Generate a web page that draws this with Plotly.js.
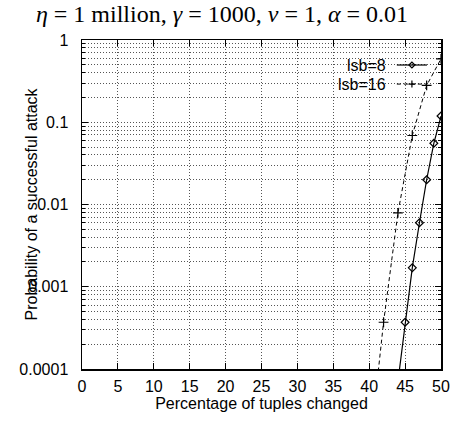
<!DOCTYPE html>
<html>
<head>
<meta charset="utf-8">
<script src="https://cdn.plot.ly/plotly-3.0.1.min.js"></script>
<style>html,body{margin:0;padding:0;background:#fff;}#chart{width:454px;height:422px;}</style>
</head>
<body>
<div id="chart"></div>
<script>
// Percentage of tuples changed
const xLsb8 = [44, 45, 46, 47, 48, 49, 50];
const yLsb8 = [0.00007, 0.00037, 0.0017, 0.0060, 0.020, 0.0555, 0.119];
const xLsb16 = [40, 42, 44, 46, 48, 50];
const yLsb16 = [0.000009, 0.00037, 0.0079, 0.069, 0.28, 0.59];
const seriesNames = ['lsb=8', 'lsb=16'];
const xTicks = [0, 5, 10, 15, 20, 25, 30, 35, 40, 45, 50];
const yTicks = [0.0001, 0.001, 0.01, 0.1, 1];
const yTickText = ['0.0001', '0.001', '0.01', '0.1', '1'];

const yMinor = [];
for (let d = -4; d < 0; d++) for (let m = 2; m <= 9; m++) yMinor.push(m * Math.pow(10, d));

const sans = 'Liberation Sans, Arial, sans-serif';
const gridDash = '1px,2px';
const gridColor = '#555';

const traces = [
  {x: xLsb8, y: yLsb8, mode: 'lines+markers', name: seriesNames[0], showlegend: false,
   line: {color: '#000', width: 1.2, dash: 'solid'},
   marker: {symbol: 'diamond-open', size: 6, color: '#000', line: {width: 1.2, color: '#000'}},
   cliponaxis: true},
  {x: xLsb16, y: yLsb16, mode: 'lines+markers', name: seriesNames[1], showlegend: false,
   line: {color: '#000', width: 1, dash: '4px,3px'},
   marker: {symbol: 'cross-thin-open', size: 7, color: '#000', line: {width: 1.2, color: '#000'}},
   cliponaxis: true}
];

function legendItem(yp, symPath, dash) {
  return [
    {type: 'line', xref: 'paper', yref: 'paper', x0: 0.877, x1: 0.961, y0: yp, y1: yp,
     line: {color: '#000', width: dash === 'solid' ? 1.2 : 1, dash: dash}},
    {type: 'path', xref: 'paper', yref: 'paper', xsizemode: 'pixel', ysizemode: 'pixel',
     xanchor: 0.919, yanchor: yp, path: symPath, fillcolor: 'rgba(0,0,0,0)',
     line: {color: '#000', width: 1.2}}
  ];
}
const diamondPath = 'M -3 0 L 0 3 L 3 0 L 0 -3 Z';
const plusPath = 'M -3.5 0 L 3.5 0 M 0 -3.5 L 0 3.5';

const shapes = [].concat(
  legendItem(0.924, diamondPath, 'solid'),
  legendItem(0.866, plusPath, '4px,3px')
);

const annotations = [
  {xref: 'paper', yref: 'paper', x: 0.852, y: 0.924, xanchor: 'right', yanchor: 'middle',
   text: seriesNames[0], showarrow: false, font: {family: sans, size: 16, color: '#000'}},
  {xref: 'paper', yref: 'paper', x: 0.852, y: 0.866, xanchor: 'right', yanchor: 'middle',
   text: seriesNames[1], showarrow: false, font: {family: sans, size: 16, color: '#000'}},
  {xref: 'paper', yref: 'paper', x: -0.142, y: 0.5, xanchor: 'center', yanchor: 'middle',
   textangle: -90, text: 'Probability of a successful attack', showarrow: false,
   font: {family: sans, size: 16, color: '#000'}}
];

const layout = {
  width: 454, height: 422,
  margin: {l: 82, r: 13, t: 40, b: 53},
  paper_bgcolor: '#fff', plot_bgcolor: '#fff',
  showlegend: false,
  title: {text: '<i>η</i> = 1 million, <i>γ</i> = 1000, <i>ν</i> = 1, <i>α</i> = 0.01',
          font: {family: '"Liberation Serif", serif', size: 24, color: '#000'},
          x: 0.489, xanchor: 'center', y: 0.967, yanchor: 'middle', yref: 'container'},
  xaxis: {
    range: [0, 50], tickmode: 'array', tickvals: xTicks, ticktext: xTicks.map(String),
    ticks: 'inside', ticklen: 6, tickcolor: '#000', tickwidth: 1,
    showline: true, linecolor: '#000', linewidth: 1.5, mirror: 'ticks',
    showgrid: true, gridcolor: gridColor, griddash: gridDash, gridwidth: 1,
    zeroline: false,
    tickfont: {family: sans, size: 16, color: '#000'},
    ticklabelstandoff: 2,
    title: {text: 'Percentage of tuples changed', font: {family: sans, size: 16, color: '#000'}, standoff: 3}
  },
  yaxis: {
    type: 'log', range: [-4, 0], tickmode: 'array', tickvals: yTicks, ticktext: yTickText,
    ticks: 'inside', ticklen: 6, tickcolor: '#000', tickwidth: 1,
    showline: true, linecolor: '#000', linewidth: 1.5, mirror: 'ticks',
    showgrid: true, gridcolor: gridColor, griddash: gridDash, gridwidth: 1,
    zeroline: false,
    tickfont: {family: sans, size: 16, color: '#000'},
    ticklabelstandoff: 9,
    minor: {tickmode: 'array', tickvals: yMinor, ticks: 'inside', ticklen: 3, tickcolor: '#000',
            showgrid: true, gridcolor: gridColor, griddash: gridDash, gridwidth: 1}
  },
  shapes: shapes,
  annotations: annotations
};

Plotly.newPlot('chart', traces, layout, {displayModeBar: false, staticPlot: true});
</script>
</body>
</html>
